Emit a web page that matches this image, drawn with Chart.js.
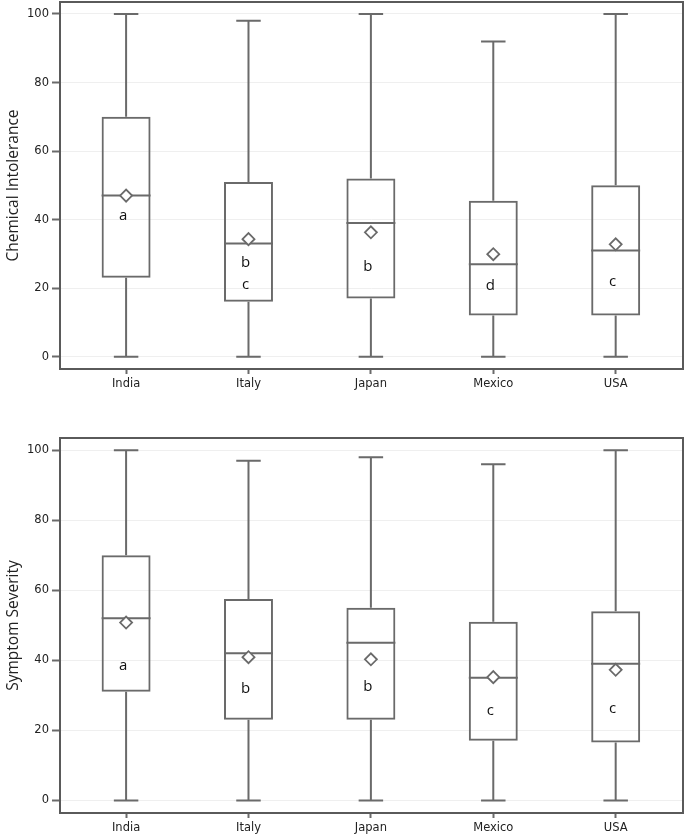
<!DOCTYPE html>
<html>
<head>
<meta charset="utf-8">
<script src="https://cdn.jsdelivr.net/npm/chart.js@4.4.1/dist/chart.umd.min.js"></script>
<style>
    body { margin: 0; background: #fff; }
    #topBox { position: absolute; left: 0; top: 0; width: 685px; height: 400px; }
    #bottomBox { position: absolute; left: 0; top: 400px; width: 685px; height: 434px; }
</style>
</head>
<body>
<div id="topBox"><canvas id="ciChart"></canvas></div>
<div id="bottomBox"><canvas id="ssChart"></canvas></div>
<script>
const countries = ['India', 'Italy', 'Japan', 'Mexico', 'USA'];
const yTicks = [0, 20, 40, 60, 80, 100];

// Chemical Intolerance
const ciMin = [0, 0, 0, 0, 0];
const ciQ1 = [23, 16, 17, 12, 12];
const ciMedian = [47, 33, 39, 27, 31];
const ciQ3 = [70, 51, 52, 45.5, 50];
const ciMax = [100, 98, 100, 92, 100];
const ciMean = [47, 34.3, 36.3, 29.9, 32.8];
const ciLetters = [['a'], ['b', 'c'], ['b'], ['d'], ['c']];
const ciLetterAt = [[41], [27.4, 21.1], [26.3], [20.8], [21.9]];

// Symptom Severity
const ssMin = [0, 0, 0, 0, 0];
const ssQ1 = [31, 23, 23, 17, 16.5];
const ssMedian = [52, 42, 45, 35, 39];
const ssQ3 = [70, 57.5, 55, 51, 54];
const ssMax = [100, 97, 98, 96, 100];
const ssMean = [50.8, 40.9, 40.3, 35.2, 37.3];
const ssLetters = [['a'], ['b'], ['b'], ['c'], ['c']];
const ssLetterAt = [[38.4], [31.9], [32.5], [25.7], [26.1]];

const lineColor = '#6a6a6a';

const boxPlotLines = {
    id: 'boxPlotLines',
    beforeDatasetsDraw(chart, args, options) {
        const {ctx, scales: {x, y}} = chart;
        const bars = chart.getDatasetMeta(0).data;
        ctx.save();
        ctx.strokeStyle = lineColor;
        ctx.lineWidth = 2;
        options.min.forEach((v, i) => {
            const cx = x.getPixelForValue(i);
            const half = bars[i].width / 2;
            const cap = half / 2;
            ctx.beginPath();
            // whiskers
            ctx.moveTo(cx, y.getPixelForValue(options.max[i]));
            ctx.lineTo(cx, y.getPixelForValue(options.q3[i]));
            ctx.moveTo(cx, y.getPixelForValue(options.q1[i]));
            ctx.lineTo(cx, y.getPixelForValue(v));
            // caps
            ctx.moveTo(cx - cap, y.getPixelForValue(options.max[i]));
            ctx.lineTo(cx + cap, y.getPixelForValue(options.max[i]));
            ctx.moveTo(cx - cap, y.getPixelForValue(v));
            ctx.lineTo(cx + cap, y.getPixelForValue(v));
            // median
            ctx.moveTo(cx - half, y.getPixelForValue(options.median[i]));
            ctx.lineTo(cx + half, y.getPixelForValue(options.median[i]));
            ctx.stroke();
        });
        ctx.restore();
    },
    afterDatasetsDraw(chart, args, options) {
        const {ctx, scales: {x, y}} = chart;
        ctx.save();
        ctx.fillStyle = '#111';
        ctx.font = '15px "Open Sans"';
        ctx.textAlign = 'center';
        ctx.textBaseline = 'middle';
        options.letters.forEach((list, i) => {
            list.forEach((letter, j) => {
                ctx.fillText(letter, x.getPixelForValue(i) - 3, y.getPixelForValue(options.letterAt[i][j]));
            });
        });
        ctx.restore();
    },
    afterDraw(chart) {
        const {ctx, chartArea} = chart;
        ctx.save();
        ctx.strokeStyle = '#5a5a5a';
        ctx.lineWidth = 2;
        ctx.strokeRect(chartArea.left, chartArea.top, chartArea.right - chartArea.left, chartArea.bottom - chartArea.top);
        ctx.restore();
    }
};

const createBoxChart = (canvasId, title, stats, padTop, xAxisHeight) => {
    return new Chart(
        document.getElementById(canvasId),
        {
            type: 'bar',
            data: {
                datasets: [
                    {
                        label: 'box',
                        data: countries.map((c, i) => ({x: i, y: [stats.q1[i], stats.q3[i]]})),
                        backgroundColor: 'rgba(0,0,0,0)',
                        borderColor: lineColor,
                        borderWidth: 2,
                        borderSkipped: false,
                        barPercentage: 0.4,
                        categoryPercentage: 1
                    },
                    {
                        type: 'scatter',
                        label: 'mean',
                        data: countries.map((c, i) => ({x: i, y: stats.mean[i]})),
                        pointStyle: 'rectRot',
                        pointRadius: 6,
                        borderColor: lineColor,
                        backgroundColor: '#fff',
                        borderWidth: 1.8
                    }
                ]
            },
            options: {
                responsive: true,
                maintainAspectRatio: false,
                animation: false,
                layout: {
                    autoPadding: false,
                    padding: {left: 0, right: 2, top: padTop, bottom: 0}
                },
                plugins: {
                    legend: { display: false },
                    tooltip: { enabled: false },
                    boxPlotLines: stats
                },
                scales: {
                    x: {
                        type: 'linear',
                        min: -0.54,
                        max: 4.55,
                        offset: false,
                        border: { display: false },
                        grid: {
                            offset: false,
                            drawOnChartArea: false,
                            drawTicks: true,
                            tickLength: 5,
                            tickColor: lineColor,
                            tickWidth: 2
                        },
                        afterBuildTicks: (axis) => {
                            axis.ticks = countries.map((c, i) => ({value: i}));
                        },
                        afterFit: (axis) => {
                            axis.height = xAxisHeight;
                            axis.paddingLeft = 0;
                            axis.paddingRight = 0;
                        },
                        ticks: {
                            callback: (value) => countries[value],
                            maxRotation: 0,
                            autoSkip: false,
                            padding: 3,
                            color: '#222',
                            font: { family: 'DejaVu Sans', size: 11.5 }
                        }
                    },
                    y: {
                        min: -3.6,
                        max: 103.5,
                        border: { display: false },
                        grid: {
                            color: '#efefef',
                            drawTicks: true,
                            tickLength: 8,
                            tickColor: lineColor,
                            tickWidth: 2
                        },
                        afterBuildTicks: (axis) => {
                            axis.ticks = yTicks.map(v => ({value: v}));
                        },
                        afterFit: (axis) => {
                            axis.width = 60;
                            axis.paddingTop = 0;
                            axis.paddingBottom = 0;
                        },
                        ticks: {
                            padding: 3,
                            color: '#222',
                            font: { family: 'DejaVu Sans', size: 11.5 }
                        },
                        title: {
                            display: true,
                            text: title,
                            color: '#222',
                            font: { family: 'Open Sans', size: 15.5 }
                        }
                    }
                }
            },
            plugins: [boxPlotLines]
        }
    );
};

createBoxChart('ciChart', 'Chemical Intolerance', {
    min: ciMin, q1: ciQ1, median: ciMedian, q3: ciQ3, max: ciMax, mean: ciMean,
    letters: ciLetters, letterAt: ciLetterAt
}, 2, 31);

createBoxChart('ssChart', 'Symptom Severity', {
    min: ssMin, q1: ssQ1, median: ssMedian, q3: ssQ3, max: ssMax, mean: ssMean,
    letters: ssLetters, letterAt: ssLetterAt
}, 38, 21);
</script>
</body>
</html>
